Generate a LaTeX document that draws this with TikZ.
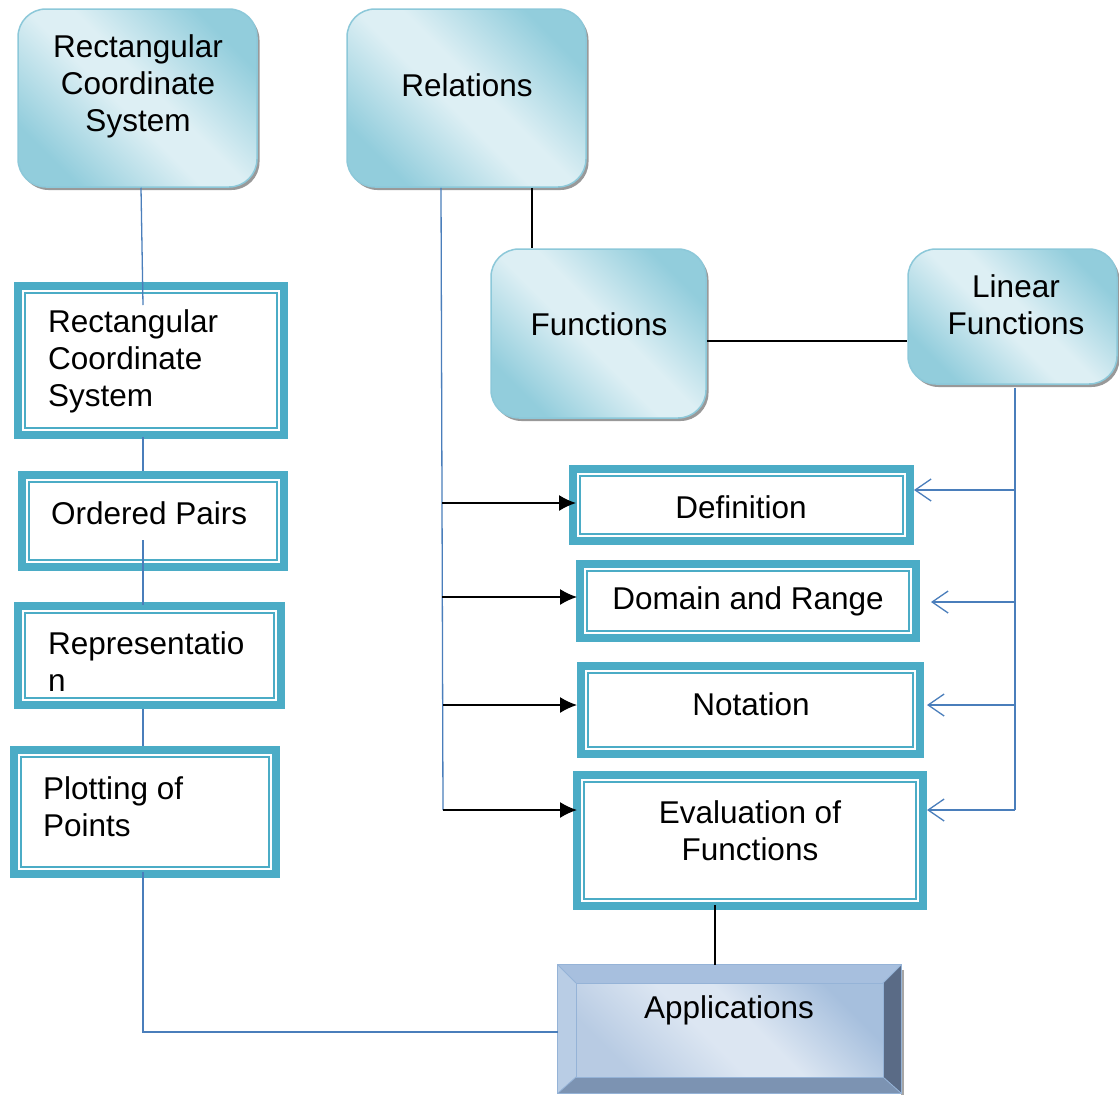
\documentclass[tikz,border=0pt]{standalone}
\usepackage{fontspec}
\setmainfont{Liberation Sans}
\usetikzlibrary{arrows.meta,shadows}
\definecolor{rdark}{HTML}{92CDDC}
\definecolor{rlight}{HTML}{DDEFF4}
\definecolor{rborder}{HTML}{8CC8D9}
\definecolor{tealb}{HTML}{4BACC6}
\definecolor{lineblue}{HTML}{4A7EBB}
\definecolor{bevtop}{HTML}{A7BFDE}
\definecolor{bevleft}{HTML}{B9CDE5}
\definecolor{bevright}{HTML}{5A6B86}
\definecolor{bevbottom}{HTML}{7C93B2}
\definecolor{bevedge}{HTML}{95B3D7}
\definecolor{facelight}{HTML}{DCE6F2}
\definecolor{facedark}{HTML}{A6BFDD}
\definecolor{facemid}{HTML}{B8CBE3}
\pgfdeclareverticalshading{rboxshade}{100bp}{color(0bp)=(rdark); color(25bp)=(rdark); color(46bp)=(rlight); color(54bp)=(rlight); color(75bp)=(rdark); color(100bp)=(rdark)}
\pgfdeclareverticalshading{faceshade}{100bp}{color(0bp)=(facemid); color(25bp)=(facemid); color(45bp)=(facelight); color(55bp)=(facelight); color(75bp)=(facedark); color(100bp)=(facedark)}
\begin{document}
\begin{tikzpicture}[x=1pt,y=-1pt,
  rbox/.style={draw=rborder, line width=1.5pt, rounded corners=28pt, inner sep=0pt,
    shading=rboxshade, shading angle=-45,
    drop shadow={shadow xshift=2.5pt, shadow yshift=-3pt, fill=black!40, opacity=1}},
  dbox/.style={draw=tealb, line width=8pt, fill=white, inner sep=0pt,
    path picture={\draw[tealb, line width=2pt]
      ([shift={(7pt,-7pt)}]path picture bounding box.north west) rectangle
      ([shift={(-7pt,7pt)}]path picture bounding box.south east);}},
  lbl/.style={font=\fontsize{31.5}{37}\selectfont, inner sep=0pt, align=center, text=black},
  lbll/.style={font=\fontsize{31.5}{37}\selectfont, inner sep=0pt, align=left, anchor=west, text=black},
  bline/.style={draw=lineblue, line width=1.3pt},
  kline/.style={draw=black, line width=1.5pt},
  karrow/.style={-{Latex[length=17pt,width=16pt]}},
  barrow/.style={-{Straight Barb[length=16pt,width=22pt,line width=1.3pt]}}
]
\useasboundingbox[fill=white] (0,0) rectangle (1119,1095);

% rounded gradient boxes
\node[rbox, minimum width=239pt, minimum height=178pt] (rcs) at (137.5,98) {};
\node[rbox, minimum width=239pt, minimum height=178pt] (rel) at (466.5,98) {};
\node[rbox, minimum width=215pt, minimum height=169pt] (fun) at (598.5,333.5) {};
\node[rbox, minimum width=209pt, minimum height=135pt] (lin) at (1012.5,316.5) {};
\node[lbl] (rcsT) at (138,86) {Rectangular\\Coordinate\\System};
\node[lbl] (relT) at (467,85) {Relations};
\node[lbl] (funT) at (599,324) {Functions};
\node[lbl] (linT) at (1016,305) {Linear\\Functions};

% double border boxes, left column
\node[dbox, minimum width=266pt, minimum height=149pt] (rcs2) at (151,360.5) {};
\node[dbox, minimum width=262pt, minimum height=92pt] (op) at (153,521) {};
\node[dbox, minimum width=263pt, minimum height=99pt] (rep) at (149.5,655.5) {};
\node[dbox, minimum width=262pt, minimum height=124pt] (plot) at (145,812) {};
\node[lbll] (rcs2T) at (48,361) {Rectangular\\Coordinate\\System};
\node[lbll] (opT) at (51,513) {Ordered Pairs};
\node[lbll] (repT) at (48,662) {Representatio\\n};
\node[lbll] (plotT) at (43,807) {Plotting of\\Points};

% double border boxes, right column
\node[dbox, minimum width=337pt, minimum height=72pt] (def) at (741.5,505) {};
\node[dbox, minimum width=336pt, minimum height=74pt] (dom) at (748,601) {};
\node[dbox, minimum width=339pt, minimum height=88pt] (nota) at (750.5,710) {};
\node[dbox, minimum width=346pt, minimum height=131pt] (eval) at (750,840.5) {};
\node[lbl] (defT) at (741,507) {Definition};
\node[lbl] (domT) at (748,601) {Domain and Range};
\node[lbl] (notaT) at (751,704) {Notation};
\node[lbl] (evalT) at (750,831) {Evaluation of\\Functions};

% Applications bevel box
\node[minimum width=343pt, minimum height=128pt, inner sep=0pt] (app) at (729.5,1029) {};
\fill[black!35] (901,970) rectangle (903.5,1095);
\fill[bevtop] (558,965) -- (901,965) -- (883,983) -- (576,983) -- cycle;
\fill[bevleft] (558,965) -- (576,983) -- (576,1077) -- (558,1093) -- cycle;
\fill[bevright] (901,965) -- (901,1093) -- (883,1077) -- (883,983) -- cycle;
\fill[bevbottom] (558,1093) -- (901,1093) -- (883,1077) -- (576,1077) -- cycle;
\shade[shading=faceshade, shading angle=-45] (576,983) rectangle (883,1077);
\draw[bevedge, line width=1.2pt] (app.north west) rectangle (app.south east);
\draw[bevedge, line width=0.8pt] (576,983) rectangle (883,1077);
\draw[bevedge, line width=0.8pt] (558,965) -- (576,983) (901,965) -- (883,983)
  (558,1093) -- (576,1077) (901,1093) -- (883,1077);
\node[lbl] (appT) at (729,1010) {Applications};

% left chain (blue)
\coordinate (lx0) at (141,0);
\coordinate (lx) at (143,0);
\coordinate (e1) at (143,305);
\coordinate (e2) at (143,540);
\coordinate (e3) at (143,605);
\coordinate (corner) at (143,1032);
\draw[bline] (rcs.south -| lx0) -- (e1);
\draw[bline] ([yshift=2pt]rcs2.south -| lx) -- (op.north -| lx);
\draw[bline] (e2) -- (e3);
\draw[bline] (rep.south -| lx) -- (plot.north -| lx);
\draw[bline] ([yshift=6pt]plot.south -| lx) -- (corner) -- (corner -| app.west);

% Relations branch
\coordinate (rx) at (441,0);
\coordinate (a1) at (442,503);
\coordinate (a2) at (442,597);
\coordinate (a3) at (443,705);
\coordinate (a4) at (443,810);
\draw[bline] (rel.south -| rx) -- (a4);
\draw[kline, karrow, shorten >=-7pt] (a1) -- (a1 -| def.west);
\draw[kline, karrow, shorten >=-1pt] (a2) -- (a2 -| dom.west);
\draw[kline, karrow] (a3) -- (a3 -| nota.west);
\draw[kline, karrow, shorten >=-4pt] (a4) -- (a4 -| eval.west);

% black connectors
\coordinate (fx) at (532,0);
\coordinate (fy) at (0,341);
\coordinate (ex) at (715,0);
\draw[kline] (rel.south -| fx) -- (fun.north -| fx);
\draw[kline] (fun.east |- fy) -- (lin.west |- fy);
\draw[kline] ([yshift=5pt]eval.south -| ex) -- (app.north -| ex);

% Linear Functions branch
\coordinate (lx2) at (1015,0);
\coordinate (b1) at (1015,490);
\coordinate (b2) at (1015,602);
\coordinate (b3) at (1015,705);
\coordinate (b4) at (1015,810);
\draw[bline] ([yshift=-3pt]lin.south -| lx2) -- (b4);
\draw[bline, barrow] (b1) -- (b1 -| def.east);
\draw[bline, barrow, shorten >=11pt] (b2) -- (b2 -| dom.east);
\draw[bline, barrow, shorten >=3pt] (b3) -- (b3 -| nota.east);
\draw[bline, barrow] (b4) -- (b4 -| eval.east);
\end{tikzpicture}
\end{document}
